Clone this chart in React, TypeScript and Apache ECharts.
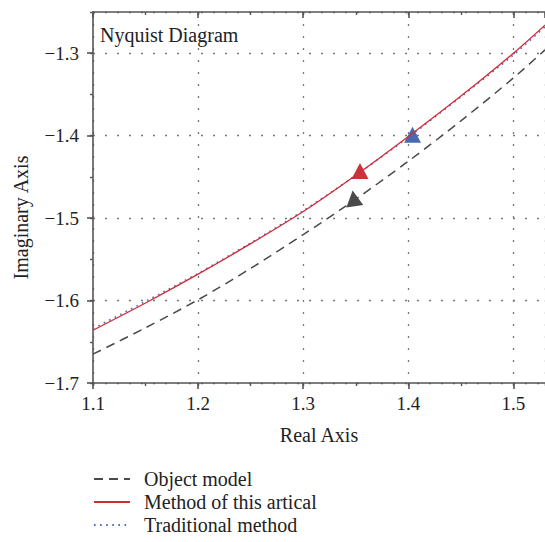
import React, { useEffect, useRef } from "react";
import * as echarts from "echarts";

const F = "'Liberation Serif', 'DejaVu Serif', serif";
const AX = "#555555";

const realAxis = [1.10, 1.15, 1.20, 1.25, 1.30, 1.35, 1.40, 1.45, 1.50, 1.53];
const objectModel = [-1.665, -1.633, -1.599, -1.561, -1.520, -1.477, -1.431, -1.382, -1.330, -1.296];
const methodArtical = [-1.636, -1.603, -1.568, -1.531, -1.492, -1.448, -1.401, -1.352, -1.300, -1.266];
const traditional = [-1.634, -1.601, -1.567, -1.530, -1.491, -1.448, -1.402, -1.353, -1.302, -1.268];

const objectArrow = [1.348, -1.476];
const methodArrow = [1.354, -1.443];
const traditionalArrow = [1.404, -1.399];

const seriesNames = ["Object model", "Method of this artical", "Traditional method"];

const pairs = (ys: number[]) => realAxis.map((x, i) => [x, ys[i]]);

export default function App() {
  const ref = useRef<HTMLDivElement>(null);
  useEffect(() => {
    if (!ref.current) return;
    const chart = echarts.init(ref.current, undefined, { renderer: "svg" });
    const xBase = { type: "value", min: 1.1, max: 1.53, gridIndex: 0 };
    const yBase = { type: "value", min: -1.7, max: -1.25, gridIndex: 0 };
    const fmt = (v: number) => v.toFixed(1).replace("-", "\u2212");
    chart.setOption({
      animation: false,
      textStyle: { fontFamily: F },
      title: {
        text: "Nyquist Diagram",
        left: 100,
        top: 25,
        padding: 0,
        textStyle: { fontFamily: F, fontSize: 20, fontWeight: "normal", color: "#222" },
      },
      grid: { left: 93, top: 12, right: 0, bottom: 159 },
      legend: {
        orient: "vertical",
        left: 93,
        top: 469,
        padding: 0,
        itemWidth: 36,
        itemHeight: 12,
        itemGap: 3,
        data: seriesNames,
        itemStyle: { opacity: 0 },
        textStyle: { fontFamily: F, fontSize: 20, color: "#222", padding: [0, 0, 0, 9] },
      },
      xAxis: [
        {
          ...xBase,
          position: "bottom",
          interval: 0.1,
          axisLine: { show: true, onZero: false, lineStyle: { color: AX, width: 1.6 } },
          axisTick: { show: true, inside: false, length: 6, lineStyle: { color: AX, width: 1.6 } },
          axisLabel: { showMaxLabel: false, margin: 11, fontSize: 19, color: "#222", fontFamily: F },
          splitLine: { show: true, lineStyle: { type: [2, 10], color: "#777", width: 1.3 } },
          name: "Real Axis",
          nameLocation: "middle",
          nameGap: 42,
          nameTextStyle: { fontFamily: F, fontSize: 20, color: "#222" },
        },
        {
          ...xBase,
          position: "bottom",
          interval: 0.05,
          axisLine: { show: false, onZero: false },
          axisTick: { show: true, inside: false, length: 3, lineStyle: { color: AX, width: 1.4 } },
          axisLabel: { show: false },
          splitLine: { show: false },
        },
        {
          ...xBase,
          position: "top",
          interval: 0.1,
          axisLine: { show: true, onZero: false, lineStyle: { color: AX, width: 1.6 } },
          axisTick: { show: true, inside: true, length: 6, lineStyle: { color: AX, width: 1.6 } },
          axisLabel: { show: false },
          splitLine: { show: false },
        },
        {
          ...xBase,
          position: "top",
          interval: 0.05,
          axisLine: { show: false, onZero: false },
          axisTick: { show: true, inside: true, length: 3, lineStyle: { color: AX, width: 1.4 } },
          axisLabel: { show: false },
          splitLine: { show: false },
        },
      ],
      yAxis: [
        {
          ...yBase,
          position: "left",
          interval: 0.1,
          axisLine: { show: true, onZero: false, lineStyle: { color: AX, width: 1.6 } },
          axisTick: { show: true, inside: false, length: 6, lineStyle: { color: AX, width: 1.6 } },
          axisLabel: { showMaxLabel: false, margin: 14, fontSize: 19, color: "#222", fontFamily: F, formatter: fmt },
          splitLine: { show: true, lineStyle: { type: [2, 10], color: "#777", width: 1.3 } },
          name: "Imaginary Axis",
          nameLocation: "middle",
          nameGap: 62,
          nameTextStyle: { fontFamily: F, fontSize: 20, color: "#222", padding: [0, 40, 0, 0] },
        },
        {
          ...yBase,
          position: "left",
          interval: 0.05,
          axisLine: { show: false, onZero: false },
          axisTick: { show: true, inside: false, length: 3, lineStyle: { color: AX, width: 1.4 } },
          axisLabel: { show: false },
          splitLine: { show: false },
        },
      ],
      series: [
        {
          name: seriesNames[0],
          type: "line",
          xAxisIndex: 0,
          yAxisIndex: 0,
          data: pairs(objectModel),
          smooth: 0.3,
          symbol: "none",
          itemStyle: { color: "#4a4a4a" },
          lineStyle: { color: "#4a4a4a", width: 1.5, type: [9, 6] },
        },
        {
          name: seriesNames[2],
          type: "line",
          xAxisIndex: 0,
          yAxisIndex: 0,
          data: pairs(traditional),
          smooth: 0.3,
          symbol: "none",
          itemStyle: { color: "#4a6cc0" },
          lineStyle: { color: "#4a6cc0", width: 1.6, type: [1.6, 4.5] },
        },
        {
          name: seriesNames[1],
          type: "line",
          xAxisIndex: 0,
          yAxisIndex: 0,
          data: pairs(methodArtical),
          smooth: 0.3,
          symbol: "none",
          itemStyle: { color: "#d42a34" },
          lineStyle: { color: "#d42a34", width: 1.3 },
        },
        {
          type: "scatter",
          xAxisIndex: 0,
          yAxisIndex: 0,
          data: [objectArrow],
          symbol: "triangle",
          symbolSize: [17, 16],
          symbolRotate: 8,
          itemStyle: { color: "#4a4a4a", opacity: 1 },
        },
        {
          type: "scatter",
          xAxisIndex: 0,
          yAxisIndex: 0,
          data: [methodArrow],
          symbol: "triangle",
          symbolSize: [17, 16],
          itemStyle: { color: "#d0303a", opacity: 1 },
        },
        {
          type: "scatter",
          xAxisIndex: 0,
          yAxisIndex: 0,
          data: [traditionalArrow],
          symbol: "triangle",
          symbolSize: [17, 16],
          itemStyle: { color: "#4a6ab0", opacity: 1 },
        },
      ],
    });
    return () => chart.dispose();
  }, []);
  return (
    <div
      ref={ref}
      style={{ position: "absolute", left: 0, top: 0, width: 545, height: 542, background: "#fff" }}
    />
  );
}
